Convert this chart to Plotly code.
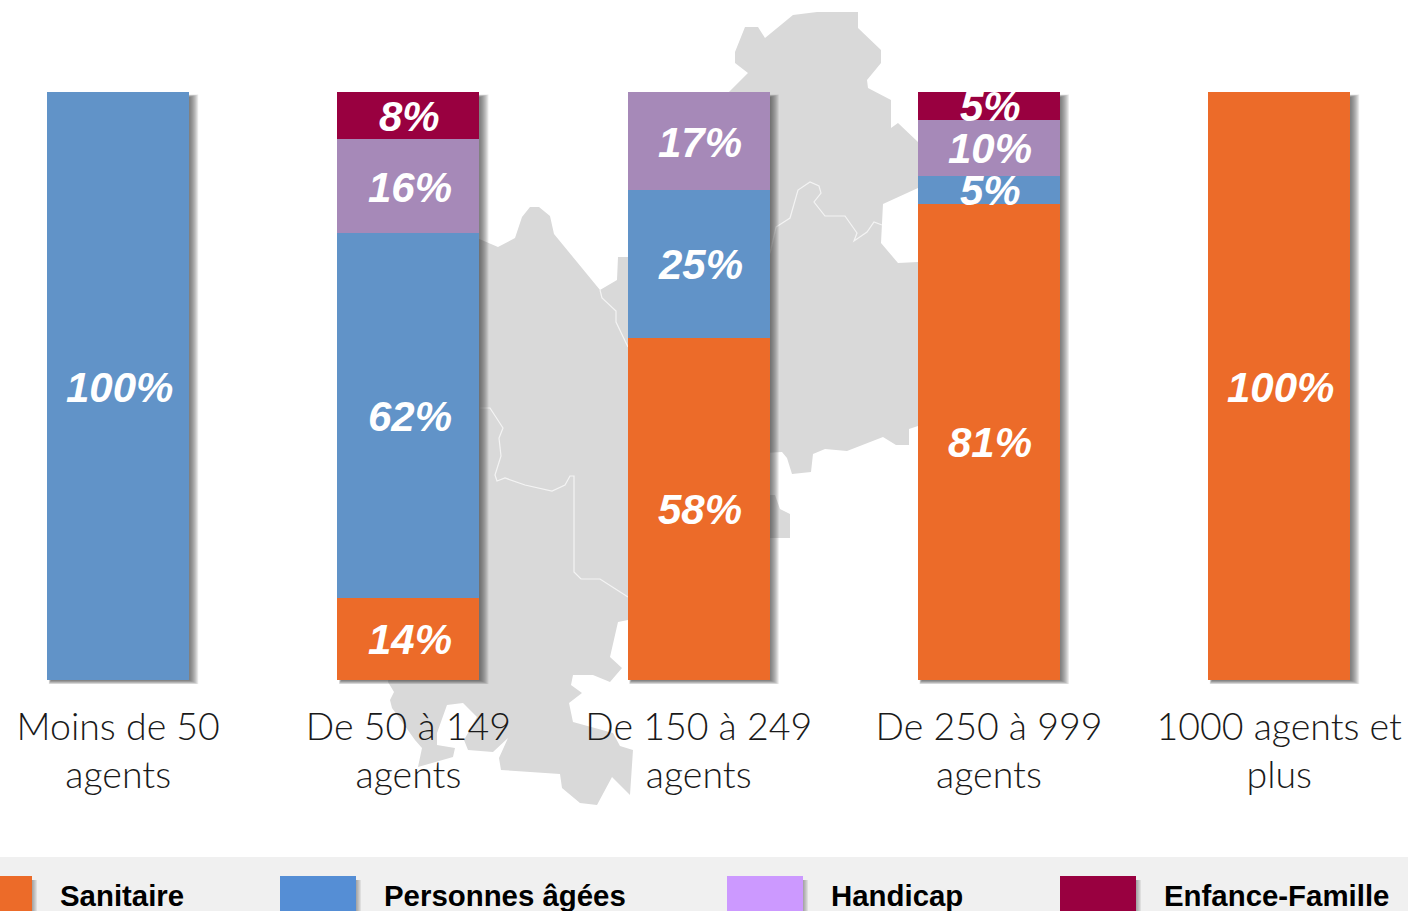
import plotly.graph_objects as go

# ---- data ----
categories = ["Moins de 50<br>agents", "De 50 à 149<br>agents", "De 150 à 249<br>agents",
              "De 250 à 999<br>agents", "1000 agents et<br>plus"]
positions = [0, 1, 2, 3, 4]
sanitaire = [None, 14, 58.2, 81, 100]
personnes_agees = [100, 62, 25.1, 4.8, None]
handicap = [None, 16, 16.7, 9.5, None]
enfance_famille = [None, 8, None, 4.7, None]
labels_sanitaire = ["", "14%", "58%", "81%", "100%"]
labels_personnes = ["100%", "62%", "25%", "5%", ""]
labels_handicap = ["", "16%", "17%", "10%", ""]
labels_enfance = ["", "8%", "", "5%", ""]
legend_names = ["Sanitaire", "Personnes âgées", "Handicap", "Enfance-Famille"]

BAR_COLORS = ["#EC6B29", "#6193C8", "#A689B8", "#990040"]
LEG_COLORS = ["#EC6B29", "#558ED5", "#CC99FF", "#990040"]
MAP = "#D9D9D9"

W, H, TOP, BOT = 1408, 911, 92, 680
STEP, CX0, BW = 290.25, 118.2, 142.0


def X(p):
    return p / W


def Y(p):
    return (BOT - p) / (BOT - TOP)


def path(pts, close=True):
    s = "M " + " L ".join(f"{X(a):.5f},{Y(b):.5f}" for a, b in pts)
    return s + (" Z" if close else "")


def rect(x0, y0, x1, y1, color, opacity=1.0):
    return dict(type="rect", xref="paper", yref="paper", layer="below", x0=X(x0), x1=X(x1),
                y0=Y(y1), y1=Y(y0), fillcolor=color, opacity=opacity, line=dict(width=0))


map_outline = [
    (470, 235), (498, 247), (515, 238), (522, 217), (530, 207), (539, 207), (550, 216), (554, 234),
    (600, 290), (617, 280), (618, 257), (628, 257), (680, 200), (723, 98), (748, 73), (735, 63),
    (735, 52), (745, 27), (758, 27), (765, 38), (793, 15), (817, 12), (858, 12), (858, 28),
    (881, 50), (881, 63), (867, 80), (868, 88), (891, 100), (891, 128), (898, 123), (918, 142),
    (950, 165), (918, 188), (883, 204), (881, 243), (898, 263), (918, 262), (950, 340), (918, 426),
    (909, 429), (909, 445), (896, 445), (883, 437), (847, 451), (825, 449), (813, 454), (811, 472),
    (792, 474), (787, 458), (782, 452), (765, 453), (730, 480), (765, 495), (775, 495), (780, 509),
    (790, 514), (790, 538), (765, 538), (700, 590), (628, 620), (618, 622), (610, 657), (622, 668),
    (610, 682), (593, 675), (573, 675), (571, 685), (582, 693), (569, 703), (573, 722), (613, 733),
    (620, 746), (633, 750), (630, 795), (612, 777), (597, 805), (580, 803), (562, 788), (560, 774),
    (501, 770), (499, 758), (508, 738), (493, 752), (468, 750), (464, 740), (477, 717), (463, 703),
    (447, 705), (437, 733), (437, 745), (455, 748), (453, 757), (418, 767), (422, 748), (415, 740),
    (392, 708), (390, 700), (394, 692), (388, 682), (420, 500),
]
border_a = [(480, 408), (490, 408), (503, 428), (499, 438), (501, 456), (495, 475), (497, 481),
            (505, 478), (525, 485), (552, 491), (565, 485), (570, 476), (574, 476), (574, 572),
            (581, 579), (600, 579), (628, 597)]
border_b = [(600, 290), (602, 298), (616, 311), (616, 322), (628, 347)]
border_c = [(770, 253), (776, 227), (790, 218), (798, 190), (810, 182), (819, 186), (821, 193),
            (814, 202), (825, 216), (845, 216), (857, 233), (854, 241), (867, 232), (874, 222),
            (882, 225)]

shapes = [dict(type="path", xref="paper", yref="paper", layer="below", path=path(map_outline),
               fillcolor=MAP, line=dict(width=0))]
for b in (border_a, border_b, border_c):
    shapes.append(dict(type="path", xref="paper", yref="paper", layer="below", path=path(b, False),
                       fillcolor="rgba(0,0,0,0)", line=dict(color="#F4F4F4", width=1.2)))


def shadow(x0, y0, x1, y1):
    out = []
    for k in range(9):
        out.append(rect(x0 + 4 - k * 0.3, y0 + 5 - k * 0.3, x1 + 1 + k, min(y1 + 0.5 + k * 0.45, 911), "#404040", 0.11))
    return out


for i in positions:
    c = CX0 + STEP * i
    shapes += shadow(c - BW / 2, TOP, c + BW / 2, BOT)

# legend band + swatches
shapes.append(rect(0, 857, W, 911, "#F0F0F0"))
swatches = [(-10, 32), (280, 356), (727, 803), (1060, 1136)]
legend_text_x = [58, 382, 829, 1162]
for (a, b), col in zip(swatches, LEG_COLORS):
    shapes += [rect(a + 3, 880, b + 1 + k, 911, "#404040", 0.10) for k in range(5)]
    shapes.append(rect(a, 876, b, 911, col))

fig = go.Figure()
series = [("Sanitaire", sanitaire, labels_sanitaire), ("Personnes âgées", personnes_agees, labels_personnes),
          ("Handicap", handicap, labels_handicap), ("Enfance-Famille", enfance_famille, labels_enfance)]
base = [0.0] * len(positions)
annotations = []
for (name, vals, txt), col in zip(series, BAR_COLORS):
    fig.add_bar(x=positions, y=vals, name=name, marker=dict(color=col, line=dict(width=0)), hoverinfo="skip")
    for i, (v, t) in enumerate(zip(vals, txt)):
        if v is None:
            continue
        annotations.append(dict(xref="x", yref="y", x=positions[i], y=base[i] + v / 2, text=t, showarrow=False,
                                xanchor="center", yanchor="middle", xshift=1.5, yshift=-1,
                                font=dict(family="Liberation Sans", size=42, color="white",
                                          weight="bold", style="italic")))
        base[i] += v

annotations += [dict(xref="paper", yref="paper", x=X(tx), y=Y(895), xanchor="left", yanchor="middle",
                     text=t, showarrow=False, align="left",
                     font=dict(family="Liberation Sans", size=29.4, color="black", weight="bold"))
                for tx, t in zip(legend_text_x, legend_names)]

fig.update_layout(
    barmode="stack", bargap=1 - BW / STEP, width=W, height=H, autosize=False,
    margin=dict(l=0, r=0, t=TOP, b=H - BOT, pad=0), showlegend=False,
    paper_bgcolor="white", plot_bgcolor="rgba(0,0,0,0)", shapes=shapes, annotations=annotations,
    xaxis=dict(range=[-CX0 / STEP, (W - CX0) / STEP], tickmode="array", tickvals=positions, ticktext=categories,
               showgrid=False, zeroline=False, showline=False, ticks="", ticklabelstandoff=21, tickangle=0,
               tickfont=dict(family="Lato", size=37.5, color="#1a1a1a", weight=300)),
    yaxis=dict(range=[0, 100], visible=False),
)
fig.write_html("out.html", config=dict(displayModeBar=False),
               post_script="document.body.style.margin='0';document.body.style.overflow='hidden';")
